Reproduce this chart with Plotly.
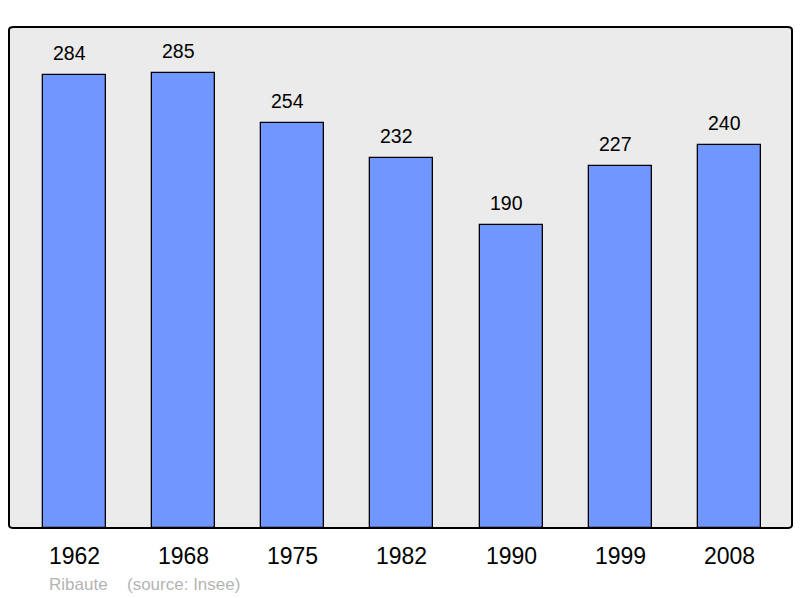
import plotly.graph_objects as go

# data
years = ["1962", "1968", "1975", "1982", "1990", "1999", "2008"]
population = [284, 285, 254, 232, 190, 227, 240]
commune = "Ribaute"
source = "(source: Insee)"

xpos = list(range(len(years)))

fig = go.Figure()

# bars
fig.add_trace(go.Bar(
    x=xpos, y=population,
    width=0.578,
    marker=dict(color="#7096ff", line=dict(color="black", width=1.3)),
    hoverinfo="skip",
))

# value labels above the bars (sit a little left of bar centre, as in the original)
for x, v in zip(xpos, population):
    fig.add_annotation(x=x, y=v, text=str(v), showarrow=False,
                       yanchor="middle", yshift=22, xshift=-5,
                       font=dict(size=19.5, color="black"))

# year labels under the frame
for x, yr in zip(xpos, years):
    fig.add_annotation(x=x, y=0, yref="paper", text=yr, showarrow=False,
                       yanchor="middle", yshift=-28,
                       font=dict(size=23, color="black"))

# source line
fig.add_annotation(x=0, y=0, xref="paper", yref="paper", text=commune,
                   showarrow=False, xanchor="left", yanchor="middle",
                   xshift=38, yshift=-56, font=dict(size=17, color="#b4b4b4"))
fig.add_annotation(x=0, y=0, xref="paper", yref="paper", text=source,
                   showarrow=False, xanchor="left", yanchor="middle",
                   xshift=116, yshift=-56, font=dict(size=17, color="#b4b4b4"))

# rounded frame
r = 0.006
fig.add_shape(type="path", xref="paper", yref="paper", layer="above",
              path=f"M {r} 0 L {1-r} 0 Q 1 0 1 {r} L 1 {1-r} Q 1 1 {1-r} 1 "
                   f"L {r} 1 Q 0 1 0 {1-r} L 0 {r} Q 0 0 {r} 0 Z",
              line=dict(color="black", width=2))

fig.update_xaxes(range=[-0.598, 6.572], showticklabels=False, showgrid=False,
                 zeroline=False, fixedrange=True)
fig.update_yaxes(range=[0, 314], showticklabels=False, showgrid=False,
                 zeroline=False, fixedrange=True)

fig.update_layout(
    width=800, height=598,
    margin=dict(l=9, r=8, t=27, b=70),
    plot_bgcolor="#ebebeb",
    paper_bgcolor="white",
    font=dict(family="Liberation Sans, Arial, sans-serif"),
    showlegend=False,
    bargap=0,
)

# drop the default page margin so the figure sits at the window's corner
fig.write_html("out.html", config={"displayModeBar": False},
               post_script="document.body.style.margin='0';document.body.style.overflow='hidden';")
